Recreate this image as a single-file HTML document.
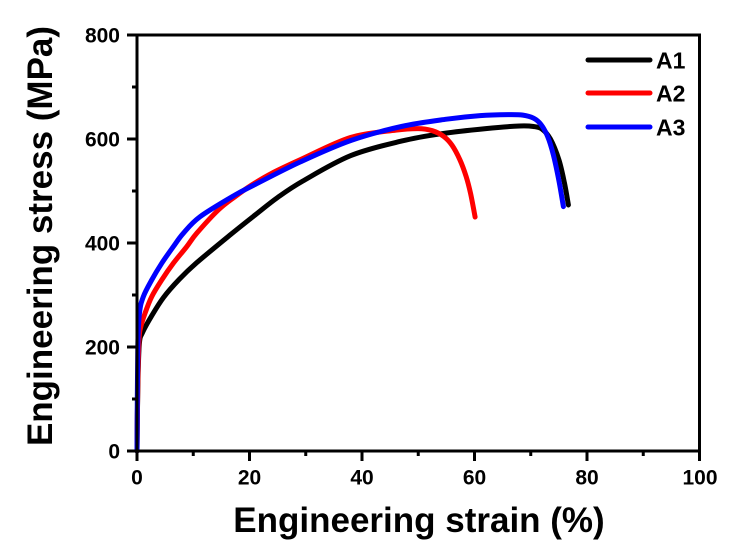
<!DOCTYPE html>
<html><head><meta charset="utf-8"><style>
html,body{margin:0;padding:0;background:#fff;}
svg{display:block;}
text{font-family:"Liberation Sans",Arial,sans-serif;font-weight:bold;fill:#000;}
</style></head><body>
<svg width="735" height="560" viewBox="0 0 735 560" xmlns="http://www.w3.org/2000/svg">
<rect width="735" height="560" fill="#fff"/>
<g fill="none" stroke-width="5" stroke-linejoin="round" stroke-linecap="round">
<path stroke="#000" d="M137,451 C137.13,440.6 137.42,406.37 137.8,388.6 C138.18,370.83 138.5,353.77 139.3,344.4 C140.1,335.03 140.63,337 142.6,332.4 C144.57,327.8 147.63,322.6 151.1,316.8 C154.57,311 158.72,303.83 163.4,297.6 C168.08,291.37 173.67,285.2 179.2,279.4 C184.73,273.6 188.17,270.17 196.6,262.8 C205.03,255.43 220.05,243.17 229.8,235.2 C239.55,227.23 247.13,221.28 255.1,215 C263.07,208.72 269.63,203.17 277.6,197.5 C285.57,191.83 290.7,187.98 302.9,181 C315.1,174.02 334.38,162.25 350.8,155.6 C367.22,148.95 386.4,144.73 401.4,141.1 C416.4,137.47 426.73,135.88 440.8,133.8 C454.87,131.72 472.68,129.9 485.8,128.6 C498.92,127.3 511.53,126.35 519.5,126 C527.47,125.65 529.85,125.98 533.6,126.5 C537.35,127.02 539.2,127.02 542,129.1 C544.8,131.18 547.58,133.88 550.4,139 C553.22,144.12 556.55,152.43 558.9,159.8 C561.25,167.17 562.92,175.67 564.5,183.2 C566.08,190.73 567.75,201.37 568.4,205"/>
<path stroke="#ff0000" d="M137,451 C137.13,439.73 137.47,401.9 137.8,383.4 C138.13,364.9 138.55,349.23 139,340 C139.45,330.77 139.5,332.45 140.5,328 C141.5,323.55 143.13,318.52 145,313.3 C146.87,308.08 148.92,302.25 151.7,296.7 C154.48,291.15 158.1,285.57 161.7,280 C165.3,274.43 169.13,268.85 173.3,263.3 C177.47,257.75 182.8,251.7 186.7,246.7 C190.6,241.7 191.43,239.42 196.7,233.3 C201.97,227.18 211.92,216.1 218.3,210 C224.68,203.9 229.43,200.87 235,196.7 C240.57,192.53 245.58,188.9 251.7,185 C257.82,181.1 263.63,177.5 271.7,173.3 C279.77,169.1 286.92,165.78 300.1,159.8 C313.28,153.82 334.85,142.33 350.8,137.4 C366.75,132.47 384.55,131.67 395.8,130.2 C407.05,128.73 412.22,128.52 418.3,128.6 C424.38,128.68 428.08,129.4 432.3,130.7 C436.52,132 440.32,133.98 443.6,136.4 C446.88,138.82 449.28,141.3 452,145.2 C454.72,149.1 457.55,154.6 459.9,159.8 C462.25,165 464.32,170.77 466.1,176.4 C467.88,182.03 469.1,186.83 470.6,193.6 C472.1,200.37 474.35,213.1 475.1,217"/>
<path stroke="#0000ff" d="M137,451 C137.13,433.67 137.38,370 137.8,347 C138.22,324 138.58,321.38 139.5,313 C140.42,304.62 141.27,302.2 143.3,296.7 C145.33,291.2 148.63,285.57 151.7,280 C154.77,274.43 158.1,268.85 161.7,263.3 C165.3,257.75 169.7,251.7 173.3,246.7 C176.9,241.7 178.85,238.3 183.3,233.3 C187.75,228.3 191.38,223.08 200,216.7 C208.62,210.32 225.82,200.37 235,195 C244.18,189.63 244.25,190 255.1,184.5 C265.95,179 284.15,169.33 300.1,162 C316.05,154.67 333.92,146.42 350.8,140.5 C367.68,134.58 385.47,130.05 401.4,126.5 C417.33,122.95 433.28,121.02 446.4,119.2 C459.52,117.38 469.78,116.37 480.1,115.6 C490.42,114.83 501.17,114.68 508.3,114.6 C515.43,114.52 518.68,114.5 522.9,115.1 C527.12,115.7 530.6,116.65 533.6,118.2 C536.6,119.75 538.57,121.37 540.9,124.4 C543.23,127.43 545.53,131.37 547.6,136.4 C549.67,141.43 551.42,147.23 553.3,154.6 C555.18,161.97 557.22,171.93 558.9,180.6 C560.58,189.27 562.65,202.27 563.4,206.6"/>
</g>
<rect x="137" y="35" width="562.5" height="416" fill="none" stroke="#000" stroke-width="3"/>
<g stroke="#000" stroke-width="3">
<line x1="127" y1="451" x2="137" y2="451"/>
<line x1="127" y1="347" x2="137" y2="347"/>
<line x1="127" y1="243" x2="137" y2="243"/>
<line x1="127" y1="139" x2="137" y2="139"/>
<line x1="127" y1="35" x2="137" y2="35"/>
<line x1="132" y1="399" x2="137" y2="399"/>
<line x1="132" y1="295" x2="137" y2="295"/>
<line x1="132" y1="191" x2="137" y2="191"/>
<line x1="132" y1="87" x2="137" y2="87"/>
<line x1="137" y1="451" x2="137" y2="461"/>
<line x1="249.5" y1="451" x2="249.5" y2="461"/>
<line x1="362" y1="451" x2="362" y2="461"/>
<line x1="474.5" y1="451" x2="474.5" y2="461"/>
<line x1="587" y1="451" x2="587" y2="461"/>
<line x1="699.5" y1="451" x2="699.5" y2="461"/>
<line x1="193.25" y1="451" x2="193.25" y2="456"/>
<line x1="305.75" y1="451" x2="305.75" y2="456"/>
<line x1="418.25" y1="451" x2="418.25" y2="456"/>
<line x1="530.75" y1="451" x2="530.75" y2="456"/>
<line x1="643.25" y1="451" x2="643.25" y2="456"/>
</g>
<g font-size="21" text-anchor="end">
<text x="120" y="458.5">0</text>
<text x="120" y="354.5">200</text>
<text x="120" y="250.5">400</text>
<text x="120" y="146.5">600</text>
<text x="120" y="42.5">800</text>
</g>
<g font-size="21" text-anchor="middle">
<text x="137" y="484.5">0</text>
<text x="249.5" y="484.5">20</text>
<text x="362" y="484.5">40</text>
<text x="474.5" y="484.5">60</text>
<text x="587" y="484.5">80</text>
<text x="700" y="484.5">100</text>
</g>
<text x="419" y="532" font-size="35" text-anchor="middle">Engineering strain (%)</text>
<text transform="translate(52,236) rotate(-90)" x="0" y="0" font-size="35" text-anchor="middle">Engineering stress (MPa)</text>
<g stroke-width="5" stroke-linecap="round">
<line x1="588" y1="60" x2="650" y2="60" stroke="#000"/>
<line x1="588" y1="93" x2="650" y2="93" stroke="#ff0000"/>
<line x1="588" y1="127" x2="650" y2="127" stroke="#0000ff"/>
</g>
<g font-size="23">
<text x="656" y="68.5">A1</text>
<text x="656" y="101.5">A2</text>
<text x="656" y="135.5">A3</text>
</g>
</svg>
</body></html>
